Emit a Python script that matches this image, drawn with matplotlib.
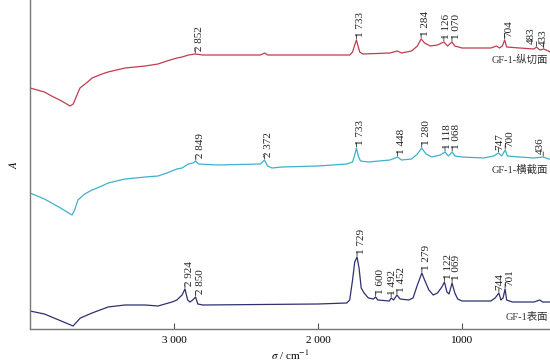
import numpy as np
import matplotlib
matplotlib.use('Agg')
import matplotlib.pyplot as plt

plt.rcParams['font.family'] = ['Liberation Serif', 'Noto Sans CJK SC']
plt.rcParams['mathtext.fontset'] = 'stix'

# wavenumber (cm-1) and absorbance (arbitrary units, curves offset)
wn_red = [4000, 3900, 3850, 3780, 3722, 3700, 3688, 3665, 3653, 3600, 3569, 3500, 3458, 3340,
          3200, 3111, 3050, 2980, 2944, 2900, 2852, 2800, 2400, 2370, 2350, 1780, 1760, 1745,
          1733, 1722, 1710, 1690, 1500, 1450, 1420, 1350, 1310, 1284, 1260, 1220, 1170, 1126,
          1100, 1070, 1050, 1000, 800, 760, 740, 720, 704, 690, 600, 500, 483, 460, 433, 400, 389]
a_red = [2.41, 2.37, 2.33, 2.28, 2.23, 2.25, 2.29, 2.37, 2.41, 2.47, 2.51, 2.55, 2.57, 2.61,
         2.63, 2.65, 2.68, 2.71, 2.72, 2.74, 2.75, 2.74, 2.74, 2.76, 2.74, 2.74, 2.77, 2.84,
         2.89, 2.83, 2.77, 2.75, 2.76, 2.78, 2.76, 2.78, 2.83, 2.90, 2.86, 2.83, 2.84, 2.87,
         2.83, 2.87, 2.83, 2.81, 2.81, 2.83, 2.81, 2.83, 2.89, 2.82, 2.81, 2.80, 2.82, 2.79,
         2.80, 2.78, 2.77]

wn_cyan = [4000, 3900, 3800, 3708, 3690, 3667, 3620, 3569, 3500, 3458, 3340, 3200, 3111, 3050,
           2980, 2944, 2900, 2868, 2849, 2830, 2700, 2400, 2372, 2350, 2320, 2250, 2000, 1800,
           1760, 1745, 1733, 1720, 1705, 1650, 1500, 1448, 1420, 1350, 1310, 1280, 1250, 1210,
           1150, 1118, 1095, 1068, 1050, 1000, 850, 780, 747, 725, 700, 685, 600, 500, 436,
           400, 389]
a_cyan = [1.36, 1.30, 1.22, 1.14, 1.19, 1.29, 1.35, 1.39, 1.43, 1.46, 1.50, 1.52, 1.53, 1.56,
          1.60, 1.61, 1.65, 1.66, 1.68, 1.65, 1.64, 1.65, 1.69, 1.63, 1.61, 1.62, 1.63, 1.65,
          1.67, 1.74, 1.81, 1.73, 1.68, 1.67, 1.69, 1.72, 1.69, 1.70, 1.75, 1.81, 1.75, 1.72,
          1.74, 1.77, 1.73, 1.77, 1.73, 1.72, 1.71, 1.73, 1.76, 1.73, 1.79, 1.73, 1.72, 1.71,
          1.72, 1.70, 1.70]

wn_navy = [4000, 3900, 3800, 3701, 3650, 3569, 3458, 3340, 3200, 3111, 3014, 2980, 2944, 2924,
           2905, 2889, 2870, 2850, 2835, 2800, 2000, 1800, 1780, 1760, 1745, 1729, 1715, 1700,
           1680, 1650, 1615, 1600, 1585, 1505, 1492, 1475, 1452, 1430, 1370, 1340, 1310, 1279,
           1260, 1230, 1200, 1170, 1140, 1122, 1105, 1090, 1069, 1050, 1030, 1000, 800, 770,
           744, 730, 715, 701, 690, 650, 500, 460, 440, 389]
a_navy = [0.18, 0.15, 0.09, 0.03, 0.11, 0.16, 0.22, 0.24, 0.24, 0.23, 0.27, 0.29, 0.34, 0.40,
          0.29, 0.27, 0.29, 0.32, 0.25, 0.24, 0.25, 0.26, 0.29, 0.49, 0.67, 0.72, 0.61, 0.41,
          0.36, 0.31, 0.30, 0.32, 0.29, 0.28, 0.31, 0.29, 0.34, 0.30, 0.29, 0.31, 0.44, 0.56,
          0.49, 0.39, 0.34, 0.36, 0.42, 0.47, 0.37, 0.35, 0.46, 0.36, 0.30, 0.28, 0.28, 0.31,
          0.36, 0.29, 0.31, 0.40, 0.29, 0.27, 0.27, 0.29, 0.27, 0.27]

# peak labels: (text, wavenumber of the peak)
peaks_red = [('2 852', 2852), ('1 733', 1733), ('1 284', 1284), ('1 126', 1126),
             ('1 070', 1070), ('704', 704), ('483', 483), ('433', 433)]
peaks_cyan = [('2 849', 2849), ('2 372', 2372), ('1 733', 1733), ('1 448', 1448),
              ('1 280', 1280), ('1 118', 1118), ('1 068', 1068), ('747', 747),
              ('700', 700), ('436', 436)]
peaks_navy = [('2 924', 2924), ('2 850', 2850), ('1 729', 1729), ('1 600', 1600),
              ('1 492', 1492), ('1 452', 1452), ('1 279', 1279), ('1 122', 1122),
              ('1 069', 1069), ('744', 744), ('701', 701)]

# labels shifted sideways (points) because of crowding / the right edge
nudge = {'483': -7, '433': -3.5, '436': -5, '747': -2.5, '744': -2.5,
         '1 492': -2, '1 118': -1.5, '1 126': -1}

names = ['GF-1-纵切面', 'GF-1-横截面', 'GF-1表面']
name_y = [2.69, 1.59, 0.12]
colors = ['#c23b4e', '#3eb1cb', '#2f3070']
xticks = [3000, 2000, 1000]
xticklabels = ['3 000', '2 000', '1000']

fig = plt.figure(figsize=(5.5, 3.62), dpi=100)
ax = fig.add_axes([30 / 550, 33 / 362, 520 / 550, 329 / 362])

series = [(wn_red, a_red, peaks_red), (wn_cyan, a_cyan, peaks_cyan), (wn_navy, a_navy, peaks_navy)]
for (wn, a, peaks), name, ny, c in zip(series, names, name_y, colors):
    ax.plot(wn, a, color=c, lw=0.9)
    wn_arr = np.array(wn)
    a_arr = np.array(a)
    for txt, w in peaks:
        y = a_arr[np.argmin(np.abs(wn_arr - w))]
        # little tick joining the peak to its label
        ax.annotate('', xy=(w, y + 0.01), xytext=(0, 3), textcoords='offset points',
                    arrowprops=dict(arrowstyle='-', lw=0.6, color='#333333',
                                    shrinkA=0, shrinkB=0))
        ax.annotate(txt, xy=(w, y), xytext=(3.2 + nudge.get(txt, 0), 2.5),
                    textcoords='offset points', rotation=90, ha='center', va='bottom',
                    fontsize=8, color='#222222')
    ax.text(0.996, ny, name, transform=ax.get_yaxis_transform(), ha='right', va='center',
            fontsize=7.5, color='#333333')

ax.set_xlim(4000, 389)
ax.set_ylim(0, 3.29)
ax.set_xticks(xticks)
ax.set_xticklabels(xticklabels, fontsize=8)
ax.set_yticks([])
ax.tick_params(axis='x', direction='in', length=4, width=0.8, color='#555555', pad=5)
for s in ['top', 'right']:
    ax.spines[s].set_visible(False)
for s in ['left', 'bottom']:
    ax.spines[s].set_color('#777777')
    ax.spines[s].set_linewidth(1.0)

ax.set_xlabel(r'$\sigma$ / cm$^{-1}$', fontsize=8, labelpad=2)
ax.set_ylabel(r'$A$', fontsize=8, labelpad=8)

fig.savefig('out.png', dpi=100)
